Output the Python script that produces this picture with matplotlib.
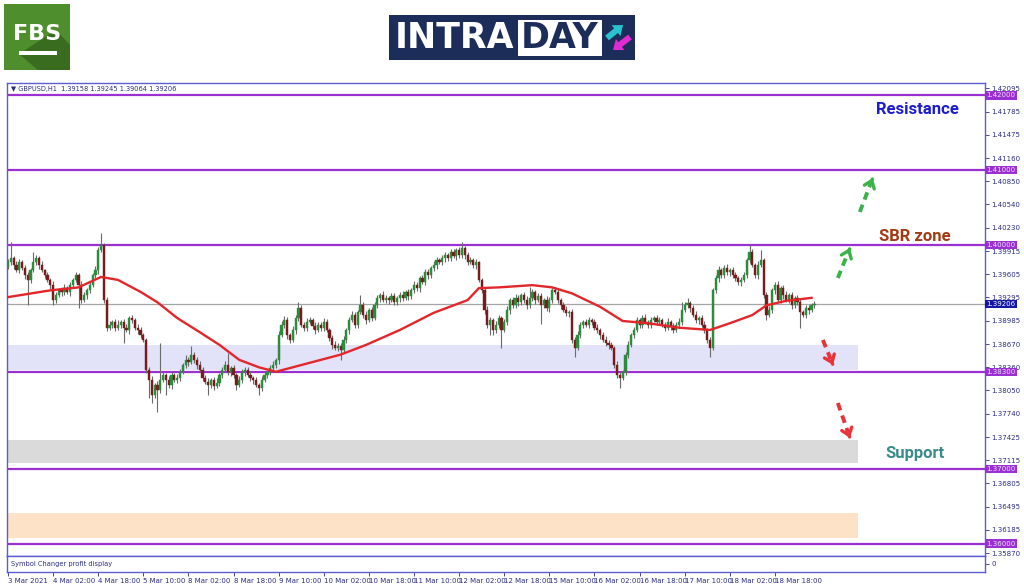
import numpy as np
import matplotlib.pyplot as plt
from matplotlib.patches import Rectangle, Polygon, FancyArrow

# ---------------- data (GBPUSD H1) ----------------
header_ohlc = [1.39158, 1.39245, 1.39064, 1.39206]
first_open = 1.3970

closes = [
    1.3977, 1.3982, 1.3973, 1.3966, 1.3977, 1.3969, 1.3959, 1.3953, 1.3966, 1.3977,
    1.3982, 1.3973, 1.3966, 1.3959, 1.3953, 1.3946, 1.3926, 1.3933, 1.3939, 1.3937,
    1.3942, 1.3937, 1.3946, 1.3953, 1.3959, 1.3946, 1.3926, 1.3933, 1.3939, 1.3946,
    1.3959, 1.3966, 1.3993, 1.4000, 1.3926, 1.3889, 1.3893, 1.3897, 1.3889, 1.3893,
    1.3897, 1.3889, 1.3886, 1.3902, 1.3899, 1.3889, 1.3886, 1.3879, 1.3873, 1.3833,
    1.3819, 1.3799, 1.3812, 1.3806, 1.3819, 1.3826, 1.3819, 1.3812, 1.3826, 1.3819,
    1.3822, 1.3830, 1.3839, 1.3846, 1.3843, 1.3853, 1.3846, 1.3839, 1.3833, 1.3822,
    1.3816, 1.3812, 1.3819, 1.3811, 1.3815, 1.3826, 1.3833, 1.3839, 1.3830, 1.3835,
    1.3826, 1.3812, 1.3819, 1.3830, 1.3833, 1.3826, 1.3822, 1.3819, 1.3812, 1.3808,
    1.3819, 1.3826, 1.3830, 1.3835, 1.3839, 1.3846, 1.3879, 1.3893, 1.3899, 1.3879,
    1.3873, 1.3886, 1.3902, 1.3915, 1.3893, 1.3889, 1.3897, 1.3899, 1.3891, 1.3886,
    1.3893, 1.3889, 1.3897, 1.3886, 1.3875, 1.3866, 1.3862, 1.3865, 1.3859, 1.3873,
    1.3886, 1.3899, 1.3906, 1.3893, 1.3910, 1.3919, 1.3906, 1.3899, 1.3913, 1.3902,
    1.3919, 1.3929, 1.3933, 1.3926, 1.3929, 1.3926, 1.3931, 1.3923, 1.3929, 1.3933,
    1.3929, 1.3937, 1.3931, 1.3939, 1.3946, 1.3942, 1.3955, 1.3950, 1.3963, 1.3959,
    1.3969, 1.3973, 1.3980, 1.3977, 1.3982, 1.3986, 1.3982, 1.3990, 1.3985, 1.3993,
    1.3986, 1.3996, 1.3986, 1.3977, 1.3980, 1.3973, 1.3977, 1.3953, 1.3939, 1.3913,
    1.3893, 1.3899, 1.3886, 1.3893, 1.3902, 1.3886, 1.3897, 1.3913, 1.3926, 1.3919,
    1.3929, 1.3923, 1.3933, 1.3926, 1.3919, 1.3929, 1.3937, 1.3926, 1.3931, 1.3919,
    1.3926, 1.3915, 1.3926, 1.3939, 1.3937, 1.3926, 1.3919, 1.3913, 1.3909, 1.3910,
    1.3873, 1.3862, 1.3879, 1.3893, 1.3897, 1.3893, 1.3899, 1.3897, 1.3889, 1.3886,
    1.3879, 1.3873, 1.3869, 1.3866, 1.3862, 1.3839, 1.3826, 1.3822, 1.3830, 1.3853,
    1.3866, 1.3879, 1.3886, 1.3899, 1.3893, 1.3902, 1.3897, 1.3893, 1.3899, 1.3902,
    1.3897, 1.3899, 1.3893, 1.3889, 1.3897, 1.3891, 1.3886, 1.3893, 1.3897, 1.3913,
    1.3919, 1.3922, 1.3915, 1.3906, 1.3899, 1.3902, 1.3893, 1.3886, 1.3873, 1.3862,
    1.3939, 1.3955, 1.3966, 1.3959, 1.3969, 1.3963, 1.3966, 1.3959, 1.3955, 1.3950,
    1.3953, 1.3959, 1.3980, 1.3990, 1.3973, 1.3959, 1.3973, 1.3980, 1.3933, 1.3906,
    1.3913, 1.3939, 1.3946, 1.3926, 1.3942, 1.3933, 1.3926, 1.3933, 1.3919, 1.3929,
    1.3923, 1.3910, 1.3906, 1.3915, 1.3913, 1.3919, 1.39206,
]

# wick lengths above / below the body, in pips
up_wick = [
    4, 22, 3, 5, 4, 3, 4, 5, 3, 13,   4, 3, 5, 2, 4, 3, 5, 4, 3, 4,
    5, 3, 4, 2, 4, 3, 5, 4, 3, 4,     3, 5, 4, 16, 2, 4, 5, 3, 4, 6,
    3, 4, 5, 3, 4, 3, 5, 4, 3, 2,     4, 5, 3, 6, 50, 4, 3, 5, 4, 3,
    5, 4, 3, 6, 4, 11, 3, 4, 5, 3,    4, 5, 3, 4, 6, 3, 4, 5, 16, 3,
    4, 3, 5, 4, 3, 4, 5, 3, 4, 3,     5, 4, 3, 4, 5, 3, 6, 5, 6, 4,
    3, 5, 4, 8, 4, 3, 5, 4, 3, 5,     4, 3, 5, 4, 3, 4, 5, 3, 4, 5,
    3, 4, 5, 4, 3, 14, 4, 5, 3, 4,    5, 4, 3, 5, 4, 3, 4, 5, 3, 4,
    5, 3, 4, 3, 5, 4, 3, 4, 5, 4,     3, 5, 4, 3, 4, 5, 3, 4, 5, 3,
    4, 8, 3, 5, 4, 3, 4, 2, 3, 4,     5, 4, 3, 5, 4, 3, 4, 5, 3, 4,
    5, 4, 3, 4, 5, 14, 4, 3, 5, 4,    3, 5, 4, 3, 4, 5, 3, 4, 5, 3,
    4, 3, 5, 4, 3, 4, 5, 3, 4, 5,     3, 4, 5, 3, 4, 3, 5, 4, 3, 4,
    5, 3, 4, 5, 3, 4, 5, 3, 4, 3,     4, 5, 3, 4, 5, 3, 4, 3, 5, 10,
    4, 7, 3, 4, 5, 3, 4, 5, 3, 4,     3, 4, 5, 3, 4, 5, 3, 4, 5, 3,
    4, 5, 3, 10, 4, 3, 5, 13, 3, 4,   5, 3, 4, 5, 3, 4, 5, 3, 4, 3,
    4, 5, 3, 4, 5, 3, 4,
]
dn_wick = [
    3, 4, 5, 3, 4, 3, 5, 34, 4, 3,    4, 5, 3, 4, 3, 5, 7, 4, 3, 5,
    4, 3, 5, 4, 3, 30, 4, 3, 5, 4,    3, 4, 5, 3, 4, 5, 3, 4, 5, 3,
    4, 20, 3, 5, 4, 3, 5, 4, 3, 5,    24, 11, 4, 30, 5, 3, 20, 4, 5, 3,
    4, 5, 3, 4, 5, 3, 4, 5, 3, 4,     3, 13, 4, 5, 3, 4, 5, 3, 4, 5,
    4, 6, 3, 4, 5, 3, 4, 5, 3, 9,     4, 3, 5, 4, 3, 4, 5, 3, 4, 5,
    4, 3, 5, 4, 3, 5, 4, 3, 4, 5,     3, 4, 5, 3, 4, 5, 3, 4, 13, 3,
    4, 5, 3, 4, 5, 3, 4, 5, 3, 4,     3, 4, 5, 3, 4, 5, 3, 4, 3, 5,
    4, 3, 5, 4, 3, 4, 5, 3, 4, 5,     3, 4, 5, 3, 4, 5, 3, 4, 3, 5,
    4, 3, 5, 4, 3, 4, 5, 3, 4, 5,     4, 14, 7, 4, 5, 24, 3, 4, 5, 3,
    4, 5, 3, 4, 5, 3, 4, 5, 3, 25,    4, 3, 5, 4, 3, 4, 5, 3, 4, 5,
    4, 12, 3, 4, 5, 3, 4, 5, 3, 4,    5, 3, 4, 5, 3, 4, 5, 14, 3, 4,
    5, 3, 4, 3, 5, 4, 3, 4, 5, 3,     4, 5, 3, 4, 3, 5, 4, 3, 4, 5,
    3, 4, 5, 3, 4, 5, 3, 4, 5, 12,    3, 4, 5, 3, 4, 3, 5, 4, 3, 4,
    5, 3, 4, 5, 3, 4, 5, 3, 4, 7,     3, 4, 5, 3, 4, 5, 3, 4, 5, 3,
    4, 21, 3, 4, 5, 3, 4,
]

# moving average (red line), sampled along the bars
ma_bar = [0, 15, 25, 33, 39, 47, 53, 60, 68, 75, 82, 89, 95, 104, 118, 127, 139,
          151, 163, 167, 174, 186, 193, 200, 210, 218, 227, 238, 249, 256, 264,
          269, 276, 285]
ma_val = [1.3930, 1.3939, 1.3943, 1.3957, 1.3953, 1.3937, 1.3923, 1.3902, 1.3883,
          1.3866, 1.3846, 1.3836, 1.3830, 1.3839, 1.3853, 1.3866, 1.3886, 1.3909,
          1.3926, 1.3942, 1.3943, 1.3946, 1.3943, 1.3935, 1.3917, 1.3898, 1.3895,
          1.3889, 1.3886, 1.3895, 1.3906, 1.3919, 1.3925, 1.3929]

levels = [1.42, 1.41, 1.40, 1.383, 1.37, 1.36]
zones = [(1.3833, 1.3866, '#e2e2f8'), (1.3708, 1.3738, '#dadada'), (1.3607, 1.3641, '#fde2c8')]
price_ticks = [1.42095, 1.41785, 1.41475, 1.41160, 1.40850, 1.40540, 1.40230, 1.39915,
               1.39605, 1.39295, 1.38985, 1.38670, 1.38360, 1.38050, 1.37740, 1.37425,
               1.37115, 1.36805, 1.36495, 1.36185, 1.35870]
time_labels = ['3 Mar 2021', '4 Mar 02:00', '4 Mar 18:00', '5 Mar 10:00', '8 Mar 02:00',
               '8 Mar 18:00', '9 Mar 10:00', '10 Mar 02:00', '10 Mar 18:00', '11 Mar 10:00',
               '12 Mar 02:00', '12 Mar 18:00', '15 Mar 10:00', '16 Mar 02:00', '16 Mar 18:00',
               '17 Mar 10:00', '18 Mar 02:00', '18 Mar 18:00']
bars_per_label = 16

###########################################################

n = len(closes)
x = np.arange(n)
o = np.array([first_open] + closes[:-1])
c = np.array(closes)
hi = np.maximum(o, c) + np.array(up_wick) * 1e-4
lo = np.minimum(o, c) - np.array(dn_wick) * 1e-4

W, H = 1024, 587
fig = plt.figure(figsize=(W / 100, H / 100), dpi=100)
fig.patch.set_facecolor('white')

def box(l, t, r, b):
    return [l / W, 1 - b / H, (r - l) / W, (b - t) / H]

frame = '#5c5cd2'
purple = '#9b30d2'
txt = '#2c2c86'

XL = (-0.36, 346.5)
ax = fig.add_axes(box(7, 83, 985, 556))
ax.set_xlim(*XL)
ax.set_ylim(1.35833, 1.42167)
for s in ax.spines.values():
    s.set_color(frame)
    s.set_linewidth(1)

# zones
for z0, z1, zc in zones:
    ax.add_patch(Rectangle((XL[0], z0), 301.4 - XL[0], z1 - z0, fc=zc, ec='none', zorder=1))

# levels
for lv in levels:
    ax.axhline(lv, color=purple, lw=1.6, zorder=2)
ax.axhline(header_ohlc[3], color='#a5a5a5', lw=0.9, zorder=2)

# candles
bull = c >= o
col = np.where(bull, '#2b8c3c', '#761c1c')
ax.vlines(x, lo, hi, color='#6a6a6a', lw=0.8, zorder=3)
body = np.maximum(np.abs(c - o), 0.00004)
ax.bar(x, body, bottom=np.minimum(o, c), width=0.78, color=col, edgecolor=col, lw=0.3, zorder=4)

# moving average
ax.plot(ma_bar, ma_val, color='#e3262b', lw=1.7, zorder=5)

# labels on chart
for tx, ty, s, tc in [(322.7, 1.41806, 'Resistance', '#1c1cd0'),
                      (321.6, 1.40118, 'SBR zone', '#a53a12'),
                      (321.6, 1.37199, 'Support', '#3a8b8b')]:
    ax.text(tx, ty, s, color=tc, fontsize=12, fontweight='bold',
            family='Roboto', ha='center', va='center')

# dashed arrows
def dash_arrow(p0, p1, color):
    ax.plot([p0[0], p0[0] + 0.85 * (p1[0] - p0[0])], [p0[1], p0[1] + 0.85 * (p1[1] - p0[1])],
            color=color, lw=2.8, dashes=(2.0, 1.4), solid_capstyle='butt', zorder=6)
    ax.annotate('', xy=p1, xytext=(p0[0] + 0.97 * (p1[0] - p0[0]), p0[1] + 0.97 * (p1[1] - p0[1])),
                arrowprops=dict(arrowstyle='->,head_length=0.5,head_width=0.38',
                                color=color, lw=2.4), zorder=6)

green = '#3cb34a'
red = '#e8333a'
dash_arrow((294.3, 1.39556), (298.6, 1.39958), green)
dash_arrow((302.1, 1.40440), (306.7, 1.40895), green)
dash_arrow((289.0, 1.38726), (292.6, 1.38391), red)
dash_arrow((294.3, 1.37882), (298.6, 1.37413), red)

# header
ax.text(0.004, 0.987, '\u25bc GBPUSD,H1  ' + ' '.join(f'{v:.5f}' for v in header_ohlc),
        transform=ax.transAxes, fontsize=4.8, color=txt, va='center', ha='left')

# price scale
ax.set_xticks([])
ax.yaxis.tick_right()
ax.set_yticks(price_ticks)
ax.set_yticklabels([f'{v:.5f}' for v in price_ticks])
ax.tick_params(axis='y', direction='out', length=3, width=0.6, colors=txt, labelsize=5, pad=1.5)
for lv in levels:
    ax.text(1.0015, lv, f'{lv:.5f}', transform=ax.get_yaxis_transform(), fontsize=5,
            color='#f0e0ff', va='center', ha='left',
            bbox=dict(boxstyle='square,pad=0.15', fc=purple, ec='none'))
ax.text(1.0015, header_ohlc[3], f'{header_ohlc[3]:.5f}', transform=ax.get_yaxis_transform(),
        fontsize=5, color='white', va='center', ha='left',
        bbox=dict(boxstyle='square,pad=0.15', fc='#1616a6', ec='none'))

# sub window + time axis
ax2 = fig.add_axes(box(7, 556, 985, 572))
ax2.set_xlim(*XL)
ax2.set_ylim(-1, 1)
for s in ax2.spines.values():
    s.set_color(frame)
    s.set_linewidth(1)
ax2.text(0.004, 0.5, 'Symbol Changer profit display', transform=ax2.transAxes,
         fontsize=4.8, color=txt, va='center', ha='left')
ax2.set_xticks(np.arange(len(time_labels)) * bars_per_label)
ax2.set_xticklabels(time_labels, ha='left')
ax2.tick_params(axis='x', direction='out', length=3, width=0.6, colors=txt, labelsize=5, pad=1)
ax2.yaxis.tick_right()
ax2.set_yticks([0])
ax2.set_yticklabels(['0'])
ax2.tick_params(axis='y', direction='out', length=3, width=0.6, colors=txt, labelsize=5, pad=1.5)

# logos
lg = fig.add_axes([0, 0, 1, 1], zorder=-1)
lg.set_xlim(0, W)
lg.set_ylim(H, 0)
lg.axis('off')
lg.add_patch(Rectangle((4, 4), 66, 66, fc='#4f8e2c', ec='none'))
lg.add_patch(Polygon([(19, 54), (56, 30), (70, 45), (70, 70), (38, 70)], fc='#3a6c1f', ec='none'))
lg.text(37, 34, 'FBS', color='white', fontsize=16, fontweight='bold', ha='center', va='center')
lg.add_patch(Rectangle((19, 51), 38, 4, fc='white', ec='none'))

lg.add_patch(Rectangle((389, 15), 246, 45, fc='#1b2d58', ec='none'))
lg.add_patch(Rectangle((518, 20), 84, 36, fc='white', ec='none'))
lg.text(455, 38.5, 'INTRA', color='white', fontsize=25, fontweight='bold', ha='center', va='center')
lg.text(560, 38.5, 'DAY', color='#1b2d58', fontsize=25, fontweight='bold', ha='center', va='center')
lg.add_patch(FancyArrow(607, 38, 16, -13, width=6, head_width=14, head_length=9,
                        length_includes_head=True, fc='#29c3cf', ec='none'))
lg.add_patch(FancyArrow(630, 37, -17, 13, width=6, head_width=14, head_length=9,
                        length_includes_head=True, fc='#e12bd2', ec='none'))

fig.savefig('out.png', dpi=100, facecolor='white')
